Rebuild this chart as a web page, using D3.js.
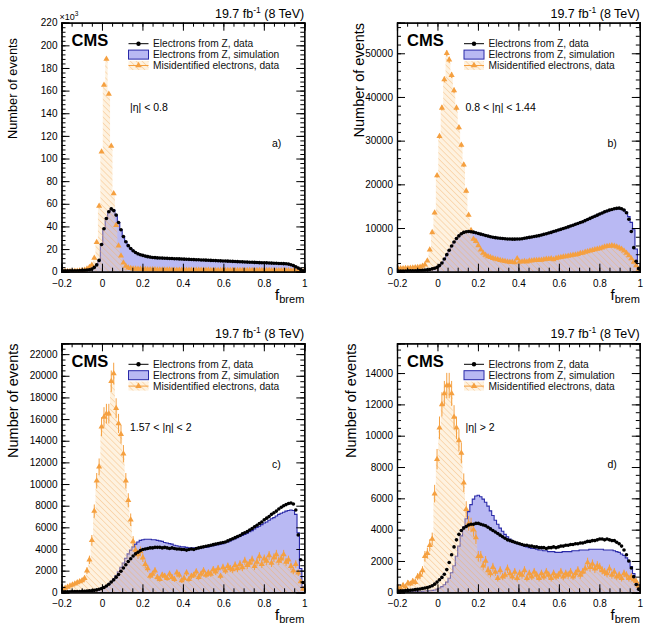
<!DOCTYPE html>
<html>
<head>
<meta charset="utf-8">
<script src="https://cdn.jsdelivr.net/npm/d3@7"></script>
<style>
  body { margin: 0; background: #fff; }
  svg { font-family: "Liberation Sans", Arial, Helvetica, sans-serif; }
</style>
</head>
<body>
<svg id="chart" width="649" height="627"></svg>
<script>
// binning: 100 bins of 0.012 from -0.2 to 1
var binLo = -0.2, binW = 0.012;

// a) |eta| < 0.8  (values in thousands)
var dataA = [
  0.7,0.7,0.8,0.8,0.8,0.9,0.9,1.0,1.1,1.2,
  1.4,1.7,2.3,3.8,6,10,24,38,47,53,
  55.5,54,50,43.5,37,31,26.5,23,20.5,18.5,
  17,15.8,15,14.4,13.8,13.3,12.9,12.6,12.4,12.2,
  12.1,12,11.9,11.8,11.7,11.6,11.5,11.4,11.3,11.2,
  11.1,11,10.9,10.8,10.7,10.6,10.5,10.4,10.3,10.2,
  10.1,10,9.9,9.8,9.7,9.6,9.5,9.4,9.3,9.2,
  9.1,9,8.9,8.8,8.7,8.6,8.5,8.4,8.3,8.2,
  8.1,8,7.9,7.9,7.8,7.7,7.6,7.5,7.4,7.3,
  7.2,7.1,7,6.7,6.2,5.4,4.4,3.2,2,0.9
];
var simA = [
  0.6,0.6,0.7,0.7,0.8,0.8,0.9,1.0,1.1,1.2,
  1.4,1.7,2.3,3.8,6.5,10.5,24,38,47.5,53.5,
  55.5,54.5,50,43.5,37,31,26.5,23,20.5,18.5,
  17,15.8,15,14.3,13.7,13.2,12.8,12.5,12.3,12.1,
  12,11.9,11.8,11.7,11.6,11.5,11.4,11.3,11.2,11.1,
  11,10.9,10.8,10.7,10.6,10.5,10.4,10.3,10.2,10.1,
  10,9.9,9.8,9.7,9.6,9.5,9.4,9.3,9.2,9.1,
  9,8.9,8.8,8.7,8.6,8.5,8.4,8.3,8.2,8.1,
  8,7.9,7.8,7.8,7.7,7.6,7.5,7.4,7.3,7.2,
  7.1,7,6.9,6.6,6.1,5.3,4.3,3.1,1.9,0.8
];
var fakeA = [
  0.3,0.3,0.3,0.4,0.4,0.5,0.6,0.8,1.0,1.5,
  2.5,4,6,12,26,58,106,165,188,157,
  111,69,41,23,14,8,5,3.5,3,2.7,
  2.5,2.4,2.3,2.2,2.1,2,2,1.9,1.9,1.8,
  1.8,1.8,1.7,1.7,1.7,1.6,1.6,1.6,1.6,1.5,
  1.5,1.5,1.5,1.5,1.4,1.4,1.4,1.4,1.4,1.4,
  1.4,1.3,1.3,1.3,1.3,1.3,1.3,1.3,1.3,1.3,
  1.3,1.3,1.3,1.2,1.2,1.2,1.2,1.2,1.2,1.2,
  1.2,1.2,1.2,1.2,1.2,1.2,1.1,1.1,1.1,1.1,
  1.1,1.1,1,1,0.9,0.8,0.7,0.5,0.4,0.2
];

// b) 0.8 < |eta| < 1.44
var dataB = [
  150,150,160,170,180,190,200,220,240,270,
  300,350,420,520,650,800,1000,1400,2000,2900,
  3900,4900,5900,6800,7600,8200,8700,9000,9150,9200,
  9150,9050,8900,8750,8600,8450,8300,8150,8000,7900,
  7800,7700,7650,7600,7550,7500,7500,7450,7450,7500,
  7500,7550,7650,7750,7850,7950,8050,8150,8250,8400,
  8550,8700,8850,9000,9200,9350,9550,9700,9900,10050,
  10250,10450,10650,10850,11050,11250,11450,11700,11950,12200,
  12450,12700,12950,13200,13450,13700,13900,14100,14250,14400,
  14500,14550,14400,14100,13500,12000,9200,5500,2400,700
];
var simB = [
  150,150,160,170,180,190,200,220,240,270,
  300,350,420,520,650,820,1050,1450,2050,2950,
  3950,4950,5950,6850,7650,8250,8750,9050,9200,9250,
  9200,9100,8950,8800,8650,8500,8350,8200,8050,7950,
  7850,7750,7700,7650,7600,7550,7550,7500,7500,7550,
  7550,7600,7700,7800,7900,8000,8100,8200,8300,8450,
  8600,8750,8900,9050,9250,9400,9600,9750,9950,10100,
  10300,10500,10700,10900,11100,11300,11500,11750,12000,12250,
  12500,12750,13000,13250,13500,13700,13900,14100,14250,14400,
  14450,14500,14350,14100,13600,12600,11300,9600,5200,1000
];
var fakeB = [
  700,750,750,800,800,850,900,950,1000,1100,
  1300,1600,2500,5000,9000,13500,22000,31000,37500,44000,
  50000,48500,45000,41500,37500,33000,29000,24500,18500,13000,
  9500,7500,7000,6000,5000,4300,3800,3500,3300,3100,
  2900,2800,2600,2500,2400,2300,2200,2200,2100,3000,
  2300,2300,2400,2300,2500,2500,2600,2600,2700,2700,
  2800,2900,2900,3000,2800,3100,3200,3300,3400,3500,
  3600,3700,3800,3900,4000,4200,4300,4500,4600,4800,
  4900,5100,5200,5300,5500,5700,5800,5900,6000,5900,
  5700,5500,5200,4800,4300,3700,3000,2200,1400,600
];

// c) 1.57 < |eta| < 2
var dataC = [
  40,40,50,50,60,60,70,80,90,100,
  110,130,150,180,220,280,350,450,580,750,
  950,1150,1400,1650,1950,2250,2550,2850,3100,3350,
  3550,3700,3850,3950,4000,4050,4100,4100,4150,4150,
  4150,4100,4150,4100,4050,4100,4050,4000,4000,3950,
  3950,3900,3950,4000,3950,4050,4100,4150,4200,4250,
  4300,4350,4400,4450,4500,4550,4600,4650,4750,4850,
  4950,5050,5150,5250,5400,5500,5600,5750,5900,6050,
  6200,6350,6500,6700,6850,7000,7200,7350,7500,7700,
  7850,8000,8100,8200,8250,8150,7600,5300,3000,900
];
var simC = [
  40,40,50,50,60,60,70,80,90,100,
  110,130,150,180,220,280,350,460,600,780,
  1000,1250,1550,1900,2300,2700,3150,3550,3900,4200,
  4450,4650,4800,4850,4900,4900,4900,4850,4850,4800,
  4750,4700,4600,4550,4500,4450,4350,4300,4250,4200,
  4200,4150,4100,4100,4100,4100,4100,4100,4150,4150,
  4200,4250,4300,4350,4400,4450,4500,4600,4650,4750,
  4850,4950,5050,5150,5250,5350,5450,5600,5700,5850,
  6000,6100,6250,6400,6500,6650,6800,6900,7050,7200,
  7300,7400,7500,7550,7600,7550,7200,5500,2200,500
];
var fakeC = [
  300,400,500,600,700,800,900,1000,1100,1300,
  2000,3000,4800,7500,10300,11600,15300,16200,16500,16500,
  19500,20200,17000,15600,14600,12800,10300,8500,6700,4700,
  3900,3500,3800,3200,2600,2200,1500,1700,2000,1400,
  1200,1600,1500,1300,1700,1400,1200,1800,1600,1100,
  1300,1800,1200,1500,1600,1900,1400,1700,2000,1600,
  1800,1700,2100,1900,2200,1500,2300,2000,2400,2200,
  2100,2500,2200,2600,2300,2900,2500,2700,3000,2400,
  2800,3300,2600,3100,2900,3400,2700,3200,3500,2900,
  3100,3500,2800,3000,2400,2000,2600,1800,1000,300
];

// d) |eta| > 2
var dataD = [
  80,90,100,110,120,130,150,170,190,210,
  240,270,300,350,420,520,650,800,950,1150,
  1450,1900,2400,2900,3350,3700,3950,4100,4200,4300,
  4350,4350,4400,4400,4350,4300,4250,4150,4050,3950,
  3850,3750,3650,3550,3450,3350,3300,3250,3200,3150,
  3100,3050,3000,3000,2950,2950,2900,2900,2850,2850,
  2850,2800,2850,2850,2900,2850,2900,2950,2950,3000,
  3000,3050,3050,3100,3100,3150,3150,3200,3250,3250,
  3300,3300,3350,3400,3400,3350,3400,3350,3300,3300,
  3200,3100,2950,2700,2400,2000,1550,1000,500,200
];
var simD = [
  30,30,30,40,40,40,50,50,60,60,
  70,80,90,100,120,150,200,270,360,480,
  650,900,1250,1700,2300,2950,3600,4200,4700,5150,
  5600,5950,6150,6200,6100,5950,5750,5500,5200,4900,
  4600,4350,4100,3900,3700,3550,3400,3300,3200,3100,
  3050,3000,2950,2900,2850,2800,2800,2750,2700,2700,
  2650,2650,2600,2600,2600,2550,2550,2550,2600,2600,
  2600,2600,2650,2650,2650,2700,2700,2700,2700,2750,
  2750,2750,2750,2750,2750,2700,2700,2700,2700,2650,
  2600,2550,2450,2350,2200,1950,1650,1200,700,300
];
var fakeD = [
  300,250,450,350,600,550,700,650,1000,1100,
  1400,2300,2500,3000,3400,6300,8500,10500,12000,12700,
  13200,13200,12700,11200,10500,9700,8900,7000,5300,4400,
  4300,4000,3500,2300,2300,1700,2000,1400,1200,1600,
  1300,900,1400,1000,1100,1500,1200,1000,1300,900,
  1200,1100,1400,900,1200,1000,1300,1100,900,1200,
  1000,1300,1100,900,1200,1000,1100,1300,1000,1200,
  1100,1300,1000,1200,1400,1100,1300,1500,1900,1600,
  1800,1500,1700,1600,1400,1300,1200,1500,1100,1300,
  1000,1100,900,1200,1100,900,1000,800,700,400
];

// tick labels
var xTicks = [-0.2, 0, 0.2, 0.4, 0.6, 0.8, 1];
var yTicksA = [0,20,40,60,80,100,120,140,160,180,200,220];
var yTicksB = [0,10000,20000,30000,40000,50000];
var yTicksC = [0,2000,4000,6000,8000,10000,12000,14000,16000,18000,20000,22000];
var yTicksD = [0,2000,4000,6000,8000,10000,12000,14000];

var legendNames = ['Electrons from Z, data', 'Electrons from Z, simulation', 'Misidentified electrons, data'];
var etaLabels = ['|\u03b7| < 0.8', '0.8 < |\u03b7| < 1.44', '1.57 < |\u03b7| < 2', '|\u03b7| > 2'];
var tags = ['a)', 'b)', 'c)', 'd)'];

var blueFill = '#b9b9f3', blueLine = '#2a2aa8', orange = '#f5a040';

var panels = [
  { left: 61.5, top: 22.7, ymax: 220,   yticks: yTicksA, minor: 5, data: dataA, sim: simA, fake: fakeA, errK: 0.002, ytx: 17, ytEnd: 38, ytSize: 12.8 },
  { left: 397,  top: 22.7, ymax: 57000, yticks: yTicksB, minor: 5, data: dataB, sim: simB, fake: fakeB, errK: 10,    ytx: 364, ytEnd: 23, ytSize: 14.5 },
  { left: 61.5, top: 343.3, ymax: 23000, yticks: yTicksC, minor: 4, data: dataC, sim: simC, fake: fakeC, errK: 50,   ytx: 17.5, ytEnd: 343.5, ytSize: 14.5 },
  { left: 397,  top: 343.3, ymax: 15900, yticks: yTicksD, minor: 4, data: dataD, sim: simD, fake: fakeD, errK: 50,   ytx: 355.5, ytEnd: 343.5, ytSize: 14.5 }
];
var W = 242.8, H = 249;

var svg = d3.select('#chart');
var defs = svg.append('defs');
var pat = defs.append('pattern')
  .attr('id', 'hatch')
  .attr('patternUnits', 'userSpaceOnUse')
  .attr('width', 4.2).attr('height', 4.2)
  .attr('patternTransform', 'rotate(-45)');
pat.append('rect').attr('width', 4.2).attr('height', 4.2).attr('fill', 'rgba(252,218,168,0.36)');
pat.append('line').attr('x1', 0).attr('y1', 0).attr('x2', 0).attr('y2', 4.2)
  .attr('stroke', 'rgba(244,172,96,0.7)').attr('stroke-width', 1);

function stepPoints(vals) {
  var pts = vals.map(function(v, i) { return { x: binLo + i * binW, y: v }; });
  pts.push({ x: binLo + vals.length * binW, y: vals[vals.length - 1] });
  return pts;
}
function centers(vals) {
  return vals.map(function(v, i) { return { x: binLo + (i + 0.5) * binW, y: v }; });
}

panels.forEach(function(p, pi) {
  var g = svg.append('g').attr('transform', 'translate(' + p.left + ',' + p.top + ')');
  var x = d3.scaleLinear().domain([-0.2, 1]).range([0, W]);
  var y = d3.scaleLinear().domain([0, p.ymax]).range([H, 0]);

  defs.append('clipPath').attr('id', 'clip' + pi)
    .append('rect').attr('width', W).attr('height', H);
  var plot = g.append('g').attr('clip-path', 'url(#clip' + pi + ')');

  var area = d3.area().curve(d3.curveStepAfter)
    .x(function(d) { return x(d.x); }).y0(H).y1(function(d) { return y(d.y); });
  var line = d3.line().curve(d3.curveStepAfter)
    .x(function(d) { return x(d.x); }).y(function(d) { return y(d.y); });

  // simulation histogram
  plot.append('path').datum(stepPoints(p.sim)).attr('d', area).attr('fill', blueFill);
  plot.append('path').datum(stepPoints(p.sim)).attr('d', line)
    .attr('fill', 'none').attr('stroke', blueLine).attr('stroke-width', 1.1);

  // misidentified: hatched area
  plot.append('path').datum(stepPoints(p.fake)).attr('d', area).attr('fill', 'url(#hatch)');

  // misidentified: error bars + triangles
  var fc = centers(p.fake);
  plot.selectAll('.ferr').data(fc).enter().append('line')
    .attr('x1', function(d) { return x(d.x); }).attr('x2', function(d) { return x(d.x); })
    .attr('y1', function(d) { return y(d.y + Math.sqrt(d.y * p.errK)); })
    .attr('y2', function(d) { return y(Math.max(0, d.y - Math.sqrt(d.y * p.errK))); })
    .attr('stroke', orange).attr('stroke-width', 1);
  plot.selectAll('.fake').data(fc).enter().append('path')
    .attr('d', d3.symbol().type(d3.symbolTriangle).size(16))
    .attr('transform', function(d) { return 'translate(' + x(d.x) + ',' + y(d.y) + ')'; })
    .attr('fill', orange);

  // data points
  plot.selectAll('.data').data(centers(p.data)).enter().append('circle')
    .attr('cx', function(d) { return x(d.x); })
    .attr('cy', function(d) { return y(d.y); })
    .attr('r', 1.8)
    .attr('fill', '#000');

  // axes, ROOT style ticks inside on all sides
  var xMinor = d3.range(-0.2, 1.0001, 0.05);
  var yStep = p.yticks[1] - p.yticks[0];
  var yMinor = d3.range(0, p.ymax, yStep / p.minor);
  function styleAxis(sel) {
    sel.select('.domain').attr('stroke', '#000').attr('stroke-width', 1.2);
    sel.selectAll('.tick line').attr('stroke', '#000');
    sel.selectAll('text').attr('font-size', '10px').attr('fill', '#000');
  }
  g.append('g').attr('transform', 'translate(0,' + H + ')')
    .call(d3.axisBottom(x).tickValues(xMinor).tickSize(-4).tickFormat(''))
    .call(styleAxis);
  g.append('g').attr('transform', 'translate(0,' + H + ')')
    .call(d3.axisBottom(x).tickValues(xTicks).tickSize(-8).tickPadding(7.8).tickFormat(d3.format('')))
    .call(styleAxis);
  g.append('g')
    .call(d3.axisTop(x).tickValues(xMinor).tickSize(-4).tickFormat(''))
    .call(styleAxis);
  g.append('g')
    .call(d3.axisTop(x).tickValues(xTicks).tickSize(-8).tickFormat(''))
    .call(styleAxis);
  g.append('g')
    .call(d3.axisLeft(y).tickValues(yMinor).tickSize(-4).tickFormat(''))
    .call(styleAxis);
  g.append('g')
    .call(d3.axisLeft(y).tickValues(p.yticks).tickSize(-8).tickPadding(4).tickFormat(d3.format('d')))
    .call(styleAxis);
  g.append('g').attr('transform', 'translate(' + W + ',0)')
    .call(d3.axisRight(y).tickValues(yMinor).tickSize(-4).tickFormat(''))
    .call(styleAxis);
  g.append('g').attr('transform', 'translate(' + W + ',0)')
    .call(d3.axisRight(y).tickValues(p.yticks).tickSize(-8).tickFormat(''))
    .call(styleAxis);

  // axis titles
  svg.append('text')
    .attr('transform', 'translate(' + p.ytx + ',' + p.ytEnd + ') rotate(-90)')
    .attr('text-anchor', 'end').attr('font-size', p.ytSize + 'px')
    .text('Number of events');
  var xt = g.append('text').attr('x', W).attr('y', H + 28)
    .attr('text-anchor', 'end').attr('font-size', '15px');
  xt.append('tspan').text('f');
  xt.append('tspan').attr('dy', 3).attr('font-size', '11px').text('brem');

  // header texts
  var lumi = g.append('text').attr('x', W).attr('y', -5)
    .attr('text-anchor', 'end').attr('font-size', '12.5px');
  lumi.append('tspan').text('19.7 fb');
  lumi.append('tspan').attr('dy', -5).attr('font-size', '8.5px').text('-1');
  lumi.append('tspan').attr('dy', 5).text(' (8 TeV)');

  g.append('text').attr('x', 10).attr('y', 23.5)
    .attr('font-size', '16.5px').attr('font-weight', 'bold').text('CMS');

  g.append('text').attr('x', 68.5).attr('y', 88)
    .attr('font-size', '10.5px').text(etaLabels[pi]);
  g.append('text').attr('x', 210.5).attr('y', 124.3)
    .attr('font-size', '10.5px').text(tags[pi]);

  // legend
  var lx = 67, ly = 24.5, dy = 10.9;
  var leg = g.append('g');
  leg.append('line').attr('x1', lx).attr('x2', lx + 20).attr('y1', ly - 3.5).attr('y2', ly - 3.5)
    .attr('stroke', '#000').attr('stroke-width', 1);
  leg.append('circle').attr('cx', lx + 10).attr('cy', ly - 3.5).attr('r', 2.2);
  leg.append('rect').attr('x', lx).attr('y', ly + dy - 8).attr('width', 20).attr('height', 9)
    .attr('fill', blueFill).attr('stroke', blueLine).attr('stroke-width', 1);
  leg.append('rect').attr('x', lx).attr('y', ly + 2 * dy - 8).attr('width', 20).attr('height', 9)
    .attr('fill', 'url(#hatch)');
  leg.append('line').attr('x1', lx).attr('x2', lx + 20).attr('y1', ly + 2 * dy - 3.5).attr('y2', ly + 2 * dy - 3.5)
    .attr('stroke', orange).attr('stroke-width', 1);
  leg.append('path').attr('d', d3.symbol().type(d3.symbolTriangle).size(18))
    .attr('transform', 'translate(' + (lx + 10) + ',' + (ly + 2 * dy - 3.5) + ')').attr('fill', orange);
  legendNames.forEach(function(n, i) {
    leg.append('text').attr('x', lx + 24.5).attr('y', ly + i * dy)
      .attr('font-size', '10.2px').attr('fill', '#111').text(n);
  });

  if (pi === 0) {
    var ex = g.append('text').attr('x', -2).attr('y', -3).attr('font-size', '9px');
    ex.append('tspan').text('\u00d710');
    ex.append('tspan').attr('dy', -3.5).attr('font-size', '6.5px').text('3');
  }
});
</script>
</body>
</html>
